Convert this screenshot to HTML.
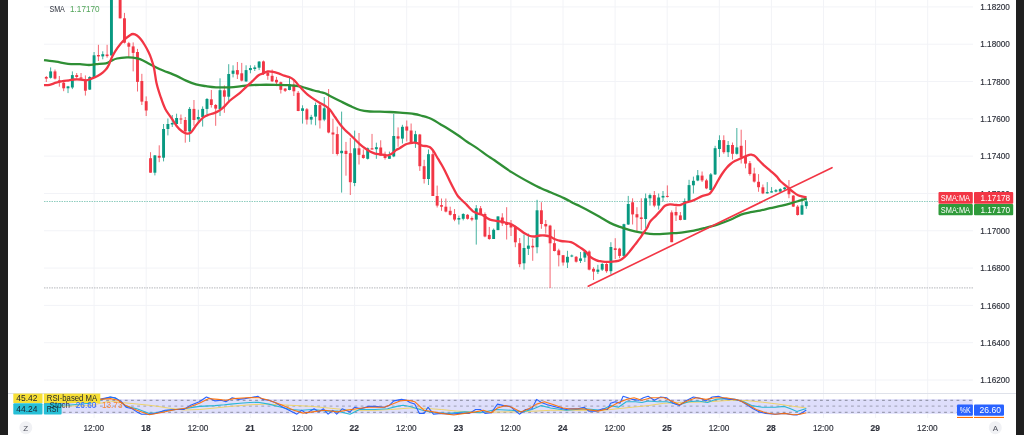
<!DOCTYPE html>
<html><head><meta charset="utf-8"><title>EUR/USD chart</title>
<style>
html,body{margin:0;padding:0;background:#fff;}
body{width:1024px;height:435px;overflow:hidden;position:relative;font-family:"Liberation Sans", sans-serif;}
svg{position:absolute;left:0;top:0;will-change:transform;}
.bl{position:absolute;left:0;top:0;width:8px;height:435px;background:#1f1f1f;}
.br{position:absolute;left:1016px;top:0;width:8px;height:435px;background:#1f1f1f;}
</style></head><body>
<svg width="1024" height="435" viewBox="0 0 1024 435" font-family='"Liberation Sans", sans-serif'>
<g stroke="#f2f3f7" stroke-width="1"><line x1="44" y1="6.9" x2="973" y2="6.9"/><line x1="44" y1="44.21" x2="973" y2="44.21"/><line x1="44" y1="81.52" x2="973" y2="81.52"/><line x1="44" y1="118.83" x2="973" y2="118.83"/><line x1="44" y1="156.14" x2="973" y2="156.14"/><line x1="44" y1="193.45" x2="973" y2="193.45"/><line x1="44" y1="230.76" x2="973" y2="230.76"/><line x1="44" y1="268.07" x2="973" y2="268.07"/><line x1="44" y1="305.38" x2="973" y2="305.38"/><line x1="44" y1="342.69" x2="973" y2="342.69"/><line x1="44" y1="380" x2="973" y2="380"/><line x1="94.1" y1="0" x2="94.1" y2="418"/><line x1="146.2" y1="0" x2="146.2" y2="418"/><line x1="198.3" y1="0" x2="198.3" y2="418"/><line x1="250.4" y1="0" x2="250.4" y2="418"/><line x1="302.5" y1="0" x2="302.5" y2="418"/><line x1="354.6" y1="0" x2="354.6" y2="418"/><line x1="406.7" y1="0" x2="406.7" y2="418"/><line x1="458.8" y1="0" x2="458.8" y2="418"/><line x1="510.9" y1="0" x2="510.9" y2="418"/><line x1="563" y1="0" x2="563" y2="418"/><line x1="615.1" y1="0" x2="615.1" y2="418"/><line x1="667.2" y1="0" x2="667.2" y2="418"/><line x1="719.3" y1="0" x2="719.3" y2="418"/><line x1="771.4" y1="0" x2="771.4" y2="418"/><line x1="823.5" y1="0" x2="823.5" y2="418"/><line x1="875.6" y1="0" x2="875.6" y2="418"/><line x1="927.7" y1="0" x2="927.7" y2="418"/></g>
<line x1="44" y1="201.5" x2="938" y2="201.5" stroke="#8fcdbf" stroke-width="1.1" stroke-dasharray="1.5 1"/>
<line x1="44" y1="287.9" x2="973" y2="287.9" stroke="#c4c5c9" stroke-width="1.2" stroke-dasharray="1.5 1"/>
<g stroke="#089981" stroke-width="1" opacity="0.75"><line x1="50.64" y1="67.4" x2="50.64" y2="78.6"/><line x1="68.02" y1="85.9" x2="68.02" y2="93.1"/><line x1="72.36" y1="71.4" x2="72.36" y2="89.1"/><line x1="89.73" y1="76.2" x2="89.73" y2="90"/><line x1="94.07" y1="52" x2="94.07" y2="77.8"/><line x1="102.76" y1="51.3" x2="102.76" y2="59.3"/><line x1="111.44" y1="-12" x2="111.44" y2="55.5"/><line x1="115.79" y1="-32" x2="115.79" y2="-6"/><line x1="154.88" y1="155" x2="154.88" y2="175.4"/><line x1="163.56" y1="124" x2="163.56" y2="161.4"/><line x1="167.9" y1="118.5" x2="167.9" y2="135.4"/><line x1="172.25" y1="115" x2="172.25" y2="127"/><line x1="176.59" y1="113.7" x2="176.59" y2="125.8"/><line x1="189.62" y1="107" x2="189.62" y2="141.9"/><line x1="198.31" y1="109.7" x2="198.31" y2="123.3"/><line x1="202.65" y1="106.4" x2="202.65" y2="126.6"/><line x1="206.99" y1="98" x2="206.99" y2="114.5"/><line x1="220.02" y1="78.3" x2="220.02" y2="116"/><line x1="228.71" y1="64.2" x2="228.71" y2="101.5"/><line x1="233.05" y1="65.3" x2="233.05" y2="77.4"/><line x1="246.08" y1="65.3" x2="246.08" y2="81.9"/><line x1="250.42" y1="65.3" x2="250.42" y2="73.3"/><line x1="254.76" y1="65.3" x2="254.76" y2="71"/><line x1="259.11" y1="61" x2="259.11" y2="70.1"/><line x1="289.51" y1="76.5" x2="289.51" y2="90.3"/><line x1="302.54" y1="105.3" x2="302.54" y2="123.6"/><line x1="311.22" y1="114.8" x2="311.22" y2="124.5"/><line x1="315.57" y1="102.5" x2="315.57" y2="125.3"/><line x1="324.25" y1="97" x2="324.25" y2="121.2"/><line x1="341.62" y1="111.6" x2="341.62" y2="192.6"/><line x1="354.65" y1="130.6" x2="354.65" y2="186.2"/><line x1="367.68" y1="147.5" x2="367.68" y2="159.5"/><line x1="376.37" y1="142.7" x2="376.37" y2="158.8"/><line x1="389.4" y1="151.6" x2="389.4" y2="158.8"/><line x1="393.74" y1="114" x2="393.74" y2="157.2"/><line x1="402.43" y1="124.8" x2="402.43" y2="143.5"/><line x1="415.45" y1="130.8" x2="415.45" y2="147.9"/><line x1="428.48" y1="149.5" x2="428.48" y2="185"/><line x1="458.88" y1="215.6" x2="458.88" y2="224.5"/><line x1="463.23" y1="213.2" x2="463.23" y2="220.4"/><line x1="476.26" y1="205.1" x2="476.26" y2="244.6"/><line x1="493.63" y1="228.5" x2="493.63" y2="239"/><line x1="497.97" y1="216.4" x2="497.97" y2="230.1"/><line x1="524.03" y1="234.5" x2="524.03" y2="269.6"/><line x1="528.37" y1="233.6" x2="528.37" y2="255"/><line x1="537.06" y1="199.8" x2="537.06" y2="253.3"/><line x1="567.46" y1="250.8" x2="567.46" y2="268"/><line x1="571.8" y1="254.5" x2="571.8" y2="257.2"/><line x1="580.49" y1="252" x2="580.49" y2="263"/><line x1="584.83" y1="251" x2="584.83" y2="262"/><line x1="597.86" y1="264.8" x2="597.86" y2="274"/><line x1="602.2" y1="263" x2="602.2" y2="271"/><line x1="610.89" y1="242.2" x2="610.89" y2="274.4"/><line x1="623.92" y1="223.7" x2="623.92" y2="256.7"/><line x1="628.26" y1="195.9" x2="628.26" y2="225"/><line x1="645.63" y1="193.5" x2="645.63" y2="228.5"/><line x1="649.98" y1="193.5" x2="649.98" y2="205.6"/><line x1="658.66" y1="193.5" x2="658.66" y2="209.6"/><line x1="663.01" y1="191" x2="663.01" y2="201.5"/><line x1="684.72" y1="198.4" x2="684.72" y2="220"/><line x1="689.06" y1="179.8" x2="689.06" y2="201.5"/><line x1="693.41" y1="176.6" x2="693.41" y2="193.5"/><line x1="697.75" y1="170" x2="697.75" y2="181.2"/><line x1="710.78" y1="173" x2="710.78" y2="190.5"/><line x1="715.12" y1="145.8" x2="715.12" y2="175"/><line x1="719.46" y1="135.3" x2="719.46" y2="157"/><line x1="728.15" y1="141" x2="728.15" y2="157"/><line x1="736.84" y1="128" x2="736.84" y2="154.6"/><line x1="767.24" y1="182.1" x2="767.24" y2="193.6"/><line x1="771.58" y1="187.1" x2="771.58" y2="192.6"/><line x1="775.92" y1="189" x2="775.92" y2="192.3"/><line x1="780.27" y1="188.2" x2="780.27" y2="192.9"/><line x1="784.61" y1="186.9" x2="784.61" y2="190.5"/><line x1="801.98" y1="197.4" x2="801.98" y2="215"/><line x1="806.32" y1="197.6" x2="806.32" y2="208.8"/></g>
<g stroke="#f23645" stroke-width="1" opacity="0.75"><line x1="46.3" y1="76" x2="46.3" y2="82"/><line x1="54.99" y1="69.5" x2="54.99" y2="79.5"/><line x1="59.33" y1="76" x2="59.33" y2="86.7"/><line x1="63.67" y1="81" x2="63.67" y2="91.2"/><line x1="76.7" y1="73" x2="76.7" y2="78.6"/><line x1="81.04" y1="73" x2="81.04" y2="79.5"/><line x1="85.39" y1="75.4" x2="85.39" y2="95.6"/><line x1="98.42" y1="44.8" x2="98.42" y2="61"/><line x1="107.1" y1="44.8" x2="107.1" y2="57.7"/><line x1="120.13" y1="-8" x2="120.13" y2="18.5"/><line x1="124.47" y1="12.9" x2="124.47" y2="43.5"/><line x1="128.82" y1="41.9" x2="128.82" y2="58"/><line x1="133.16" y1="42.4" x2="133.16" y2="71.4"/><line x1="137.5" y1="48.9" x2="137.5" y2="91.5"/><line x1="141.85" y1="73.8" x2="141.85" y2="105"/><line x1="146.19" y1="96.4" x2="146.19" y2="116"/><line x1="150.53" y1="152.2" x2="150.53" y2="172.7"/><line x1="159.22" y1="145.3" x2="159.22" y2="162.2"/><line x1="180.93" y1="114.5" x2="180.93" y2="124"/><line x1="185.28" y1="117" x2="185.28" y2="142.7"/><line x1="193.96" y1="100" x2="193.96" y2="125.8"/><line x1="211.33" y1="90" x2="211.33" y2="107.6"/><line x1="215.68" y1="104" x2="215.68" y2="125.8"/><line x1="224.36" y1="85.4" x2="224.36" y2="112.8"/><line x1="237.39" y1="62" x2="237.39" y2="79"/><line x1="241.74" y1="62.9" x2="241.74" y2="81.4"/><line x1="263.45" y1="60.5" x2="263.45" y2="75"/><line x1="267.79" y1="71" x2="267.79" y2="79.8"/><line x1="272.14" y1="69.5" x2="272.14" y2="82"/><line x1="276.48" y1="76.9" x2="276.48" y2="86.1"/><line x1="280.82" y1="81.6" x2="280.82" y2="93.5"/><line x1="285.17" y1="88" x2="285.17" y2="92"/><line x1="293.85" y1="81" x2="293.85" y2="96"/><line x1="298.19" y1="91" x2="298.19" y2="111.2"/><line x1="306.88" y1="108" x2="306.88" y2="124.5"/><line x1="319.91" y1="104" x2="319.91" y2="128.5"/><line x1="328.6" y1="89" x2="328.6" y2="133.3"/><line x1="332.94" y1="118.8" x2="332.94" y2="154"/><line x1="337.28" y1="126.6" x2="337.28" y2="155.6"/><line x1="345.97" y1="141.9" x2="345.97" y2="175.7"/><line x1="350.31" y1="137.9" x2="350.31" y2="195"/><line x1="359" y1="133" x2="359" y2="164.5"/><line x1="363.34" y1="149.4" x2="363.34" y2="158.8"/><line x1="372.03" y1="133.9" x2="372.03" y2="149.5"/><line x1="380.71" y1="140.3" x2="380.71" y2="155.6"/><line x1="385.05" y1="151.6" x2="385.05" y2="159.6"/><line x1="398.08" y1="127.4" x2="398.08" y2="146.8"/><line x1="406.77" y1="120.5" x2="406.77" y2="141.5"/><line x1="411.11" y1="123.5" x2="411.11" y2="142.6"/><line x1="419.8" y1="133.9" x2="419.8" y2="170.9"/><line x1="424.14" y1="159.8" x2="424.14" y2="183.5"/><line x1="432.83" y1="150" x2="432.83" y2="196"/><line x1="437.17" y1="185.6" x2="437.17" y2="207.5"/><line x1="441.51" y1="198.5" x2="441.51" y2="210.8"/><line x1="445.86" y1="198.5" x2="445.86" y2="212.4"/><line x1="450.2" y1="206.7" x2="450.2" y2="215.6"/><line x1="454.54" y1="209" x2="454.54" y2="221.2"/><line x1="467.57" y1="214" x2="467.57" y2="219.6"/><line x1="471.91" y1="216.4" x2="471.91" y2="221.2"/><line x1="480.6" y1="206" x2="480.6" y2="214.8"/><line x1="484.94" y1="212.4" x2="484.94" y2="237.3"/><line x1="489.29" y1="226.9" x2="489.29" y2="239.8"/><line x1="502.31" y1="213.2" x2="502.31" y2="226"/><line x1="506.66" y1="207.2" x2="506.66" y2="239.5"/><line x1="511" y1="220" x2="511" y2="236"/><line x1="515.34" y1="225.6" x2="515.34" y2="247.2"/><line x1="519.69" y1="238" x2="519.69" y2="267.2"/><line x1="532.72" y1="238.5" x2="532.72" y2="260.8"/><line x1="541.4" y1="202.2" x2="541.4" y2="228.8"/><line x1="545.75" y1="220" x2="545.75" y2="233.6"/><line x1="550.09" y1="224.8" x2="550.09" y2="288"/><line x1="554.43" y1="229.6" x2="554.43" y2="251.4"/><line x1="558.77" y1="248.7" x2="558.77" y2="266.4"/><line x1="563.12" y1="255" x2="563.12" y2="265.6"/><line x1="576.15" y1="256" x2="576.15" y2="262.6"/><line x1="589.17" y1="250.3" x2="589.17" y2="270.4"/><line x1="593.52" y1="267.2" x2="593.52" y2="280"/><line x1="606.55" y1="261.5" x2="606.55" y2="272.8"/><line x1="615.23" y1="238.2" x2="615.23" y2="259.1"/><line x1="619.58" y1="247.8" x2="619.58" y2="258.3"/><line x1="632.6" y1="198.3" x2="632.6" y2="224.5"/><line x1="636.95" y1="207.2" x2="636.95" y2="231.7"/><line x1="641.29" y1="198.3" x2="641.29" y2="230"/><line x1="654.32" y1="191" x2="654.32" y2="207.2"/><line x1="667.35" y1="185.4" x2="667.35" y2="197.5"/><line x1="671.69" y1="210.4" x2="671.69" y2="242.2"/><line x1="676.03" y1="206.6" x2="676.03" y2="221"/><line x1="680.38" y1="212" x2="680.38" y2="220.4"/><line x1="702.09" y1="171.5" x2="702.09" y2="182"/><line x1="706.44" y1="178.8" x2="706.44" y2="189.2"/><line x1="723.81" y1="135.3" x2="723.81" y2="153.8"/><line x1="732.49" y1="142.5" x2="732.49" y2="159.5"/><line x1="741.18" y1="129.7" x2="741.18" y2="163.5"/><line x1="745.52" y1="140.1" x2="745.52" y2="168.3"/><line x1="749.87" y1="161" x2="749.87" y2="175.6"/><line x1="754.21" y1="167.7" x2="754.21" y2="182.6"/><line x1="758.55" y1="174.1" x2="758.55" y2="191.8"/><line x1="762.89" y1="184.5" x2="762.89" y2="194.2"/><line x1="788.95" y1="180" x2="788.95" y2="198.2"/><line x1="793.3" y1="195" x2="793.3" y2="207"/><line x1="797.64" y1="205" x2="797.64" y2="215.6"/></g>
<g fill="#089981"><rect x="49.19" y="71.4" width="2.9" height="6.4"/><rect x="66.56" y="86.4" width="2.9" height="1.9"/><rect x="70.91" y="75.1" width="2.9" height="12.4"/><rect x="88.28" y="77" width="2.9" height="12.6"/><rect x="92.62" y="55.3" width="2.9" height="21.7"/><rect x="101.31" y="54.2" width="2.9" height="2.2"/><rect x="109.99" y="-10" width="2.9" height="65.5"/><rect x="114.34" y="-30" width="2.9" height="22"/><rect x="153.43" y="155.4" width="2.9" height="17.3"/><rect x="162.11" y="129" width="2.9" height="28.7"/><rect x="166.45" y="124" width="2.9" height="5"/><rect x="170.8" y="123" width="2.9" height="1.5"/><rect x="175.14" y="118" width="2.9" height="6"/><rect x="188.17" y="108.9" width="2.9" height="22.5"/><rect x="196.86" y="117" width="2.9" height="2.3"/><rect x="201.2" y="108.9" width="2.9" height="8.1"/><rect x="205.54" y="99" width="2.9" height="9.9"/><rect x="218.57" y="90.2" width="2.9" height="18.8"/><rect x="227.26" y="74" width="2.9" height="22.7"/><rect x="231.6" y="70.6" width="2.9" height="3.2"/><rect x="244.63" y="70.1" width="2.9" height="11.3"/><rect x="248.97" y="68" width="2.9" height="2.1"/><rect x="253.31" y="67.4" width="2.9" height="1.6"/><rect x="257.66" y="61.6" width="2.9" height="6.1"/><rect x="288.06" y="84.3" width="2.9" height="5.7"/><rect x="301.09" y="108.3" width="2.9" height="2.6"/><rect x="309.77" y="116.9" width="2.9" height="2.7"/><rect x="314.12" y="105" width="2.9" height="11.6"/><rect x="322.8" y="108.3" width="2.9" height="11.3"/><rect x="340.17" y="150.8" width="2.9" height="2.4"/><rect x="353.2" y="148.3" width="2.9" height="34.7"/><rect x="366.23" y="148.3" width="2.9" height="10.5"/><rect x="374.92" y="147.2" width="2.9" height="2"/><rect x="387.95" y="155.6" width="2.9" height="3.2"/><rect x="392.29" y="136" width="2.9" height="20.4"/><rect x="400.98" y="126.8" width="2.9" height="11.8"/><rect x="414" y="134.2" width="2.9" height="7.8"/><rect x="427.03" y="154.2" width="2.9" height="24.8"/><rect x="457.44" y="218" width="2.9" height="1.6"/><rect x="461.78" y="214" width="2.9" height="4.8"/><rect x="474.81" y="208.3" width="2.9" height="11.3"/><rect x="492.18" y="229.8" width="2.9" height="9.2"/><rect x="496.52" y="216.4" width="2.9" height="13.7"/><rect x="522.58" y="248" width="2.9" height="15.3"/><rect x="526.92" y="245.6" width="2.9" height="3.2"/><rect x="535.61" y="210.3" width="2.9" height="36.9"/><rect x="566.01" y="256.8" width="2.9" height="5.7"/><rect x="570.35" y="255.5" width="2.9" height="1"/><rect x="579.04" y="258.4" width="2.9" height="2.5"/><rect x="583.38" y="251.6" width="2.9" height="6"/><rect x="596.41" y="269.6" width="2.9" height="2.2"/><rect x="600.75" y="264" width="2.9" height="5.6"/><rect x="609.44" y="247" width="2.9" height="24.2"/><rect x="622.47" y="224.2" width="2.9" height="31.7"/><rect x="626.81" y="204" width="2.9" height="20.5"/><rect x="644.18" y="198.3" width="2.9" height="20.7"/><rect x="648.53" y="195.1" width="2.9" height="3.2"/><rect x="657.21" y="197.5" width="2.9" height="8.1"/><rect x="661.56" y="195.9" width="2.9" height="1.6"/><rect x="683.27" y="201" width="2.9" height="18.8"/><rect x="687.61" y="185.1" width="2.9" height="16.2"/><rect x="691.96" y="180.8" width="2.9" height="4.5"/><rect x="696.3" y="175.3" width="2.9" height="5.2"/><rect x="709.33" y="174.4" width="2.9" height="15.6"/><rect x="713.67" y="148.2" width="2.9" height="26.2"/><rect x="718.01" y="140.1" width="2.9" height="8.9"/><rect x="726.7" y="145" width="2.9" height="7.2"/><rect x="735.39" y="147.4" width="2.9" height="6.4"/><rect x="765.79" y="192.1" width="2.9" height="1.3"/><rect x="770.13" y="191.3" width="2.9" height="1.2"/><rect x="774.47" y="190.2" width="2.9" height="1.4"/><rect x="778.82" y="189.1" width="2.9" height="2.5"/><rect x="783.16" y="187.5" width="2.9" height="1.7"/><rect x="800.53" y="205.3" width="2.9" height="9.3"/><rect x="804.87" y="201.4" width="2.9" height="4.7"/></g>
<g fill="#f23645"><rect x="44.85" y="77" width="2.9" height="1.6"/><rect x="53.54" y="71.4" width="2.9" height="7.2"/><rect x="57.88" y="80.3" width="2.9" height="1.9"/><rect x="62.22" y="82.7" width="2.9" height="5.6"/><rect x="75.25" y="75.1" width="2.9" height="1.9"/><rect x="79.59" y="77.4" width="2.9" height="1.2"/><rect x="83.94" y="80.3" width="2.9" height="10.4"/><rect x="96.97" y="55" width="2.9" height="1.4"/><rect x="105.65" y="54.5" width="2.9" height="1.6"/><rect x="118.68" y="-6" width="2.9" height="24.3"/><rect x="123.02" y="18.3" width="2.9" height="24.4"/><rect x="127.37" y="43.2" width="2.9" height="3.5"/><rect x="131.71" y="46.4" width="2.9" height="6.5"/><rect x="136.05" y="52" width="2.9" height="29.9"/><rect x="140.4" y="81" width="2.9" height="20.6"/><rect x="144.74" y="101.2" width="2.9" height="9.3"/><rect x="149.08" y="158.2" width="2.9" height="14.5"/><rect x="157.77" y="155.8" width="2.9" height="1.9"/><rect x="179.48" y="118.5" width="2.9" height="1"/><rect x="183.83" y="120" width="2.9" height="11.4"/><rect x="192.51" y="108.9" width="2.9" height="11.1"/><rect x="209.88" y="99.3" width="2.9" height="5.7"/><rect x="214.23" y="105" width="2.9" height="3.6"/><rect x="222.91" y="90.3" width="2.9" height="6.4"/><rect x="235.94" y="70.1" width="2.9" height="4.4"/><rect x="240.29" y="73.3" width="2.9" height="7.3"/><rect x="262" y="61.4" width="2.9" height="12.6"/><rect x="266.34" y="72.4" width="2.9" height="3.4"/><rect x="270.69" y="75.8" width="2.9" height="5.5"/><rect x="275.03" y="79.8" width="2.9" height="2.6"/><rect x="279.37" y="82.2" width="2.9" height="7.6"/><rect x="283.72" y="88.6" width="2.9" height="2.2"/><rect x="292.4" y="84.6" width="2.9" height="6.7"/><rect x="296.74" y="92.8" width="2.9" height="18.2"/><rect x="305.43" y="109.3" width="2.9" height="10.3"/><rect x="318.46" y="105.1" width="2.9" height="15.3"/><rect x="327.15" y="108.3" width="2.9" height="24.2"/><rect x="331.49" y="132.5" width="2.9" height="2"/><rect x="335.83" y="134.1" width="2.9" height="19.9"/><rect x="344.52" y="150.8" width="2.9" height="3.2"/><rect x="348.86" y="153.2" width="2.9" height="29"/><rect x="357.55" y="148.3" width="2.9" height="6.5"/><rect x="361.89" y="154.8" width="2.9" height="3.2"/><rect x="370.58" y="148.3" width="2.9" height="1.2"/><rect x="379.26" y="147.5" width="2.9" height="8.1"/><rect x="383.6" y="154.8" width="2.9" height="3.2"/><rect x="396.63" y="136.3" width="2.9" height="2.3"/><rect x="405.32" y="126.5" width="2.9" height="4.1"/><rect x="409.66" y="130.5" width="2.9" height="11.5"/><rect x="418.35" y="134.5" width="2.9" height="31.7"/><rect x="422.69" y="166.2" width="2.9" height="12.8"/><rect x="431.38" y="154.2" width="2.9" height="41.8"/><rect x="435.72" y="196" width="2.9" height="9.6"/><rect x="440.06" y="205.1" width="2.9" height="1.6"/><rect x="444.41" y="206.7" width="2.9" height="4.9"/><rect x="448.75" y="210.8" width="2.9" height="4"/><rect x="453.09" y="214" width="2.9" height="5.6"/><rect x="466.12" y="214.8" width="2.9" height="4"/><rect x="470.46" y="218" width="2.9" height="1.6"/><rect x="479.15" y="208.3" width="2.9" height="5.7"/><rect x="483.49" y="214" width="2.9" height="22.5"/><rect x="487.84" y="234.9" width="2.9" height="4.1"/><rect x="500.87" y="217.5" width="2.9" height="5.9"/><rect x="505.21" y="223.2" width="2.9" height="1.8"/><rect x="509.55" y="224" width="2.9" height="3.5"/><rect x="513.89" y="226.4" width="2.9" height="15.9"/><rect x="518.24" y="243.2" width="2.9" height="21"/><rect x="531.27" y="245.8" width="2.9" height="1.6"/><rect x="539.95" y="210.3" width="2.9" height="13.7"/><rect x="544.29" y="224" width="2.9" height="2.4"/><rect x="548.64" y="225.6" width="2.9" height="17.7"/><rect x="552.98" y="243.2" width="2.9" height="7.8"/><rect x="557.32" y="250.4" width="2.9" height="4.8"/><rect x="561.67" y="255.2" width="2.9" height="7.3"/><rect x="574.7" y="256.8" width="2.9" height="4.9"/><rect x="587.72" y="251.5" width="2.9" height="18.1"/><rect x="592.07" y="268.8" width="2.9" height="2.8"/><rect x="605.1" y="264" width="2.9" height="7.2"/><rect x="613.78" y="248.3" width="2.9" height="1.7"/><rect x="618.13" y="248.6" width="2.9" height="7.3"/><rect x="631.15" y="202.3" width="2.9" height="12.1"/><rect x="635.5" y="214.2" width="2.9" height="3.2"/><rect x="639.84" y="217.4" width="2.9" height="1.6"/><rect x="652.87" y="195.1" width="2.9" height="10.5"/><rect x="665.9" y="195.9" width="2.9" height="1"/><rect x="670.24" y="212.4" width="2.9" height="29.8"/><rect x="674.58" y="212" width="2.9" height="3.4"/><rect x="678.93" y="215.4" width="2.9" height="4.6"/><rect x="700.64" y="175.6" width="2.9" height="4.8"/><rect x="704.99" y="180.4" width="2.9" height="8"/><rect x="722.36" y="140.1" width="2.9" height="12.1"/><rect x="731.04" y="145" width="2.9" height="8.8"/><rect x="739.73" y="145.8" width="2.9" height="11.7"/><rect x="744.07" y="157" width="2.9" height="6.6"/><rect x="748.42" y="163.2" width="2.9" height="10.8"/><rect x="752.76" y="173.5" width="2.9" height="8.1"/><rect x="757.1" y="181.8" width="2.9" height="5.4"/><rect x="761.44" y="187.3" width="2.9" height="6.1"/><rect x="787.5" y="187.5" width="2.9" height="6.7"/><rect x="791.85" y="195.6" width="2.9" height="11"/><rect x="796.19" y="206.6" width="2.9" height="8.4"/></g>
<path d="M44,60.1C46,60.37 52,61.08 56,61.7C60,62.32 64,63.38 68,63.8C72,64.22 76.5,64 80,64.2C83.5,64.4 86.33,65 89,65C91.67,65 93.17,64.48 96,64.2C98.83,63.92 103.5,63.85 106,63.3C108.5,62.75 109.17,61.7 111,60.9C112.83,60.1 114.33,59.08 117,58.5C119.67,57.92 124.33,57.53 127,57.4C129.67,57.27 130.83,57.42 133,57.7C135.17,57.98 137.17,58.02 140,59.1C142.83,60.18 146.67,62.52 150,64.2C153.33,65.88 155.67,67.3 160,69.2C164.33,71.1 171.67,73.7 176,75.6C180.33,77.5 182.67,79.13 186,80.6C189.33,82.07 192.67,83.47 196,84.4C199.33,85.33 202.67,85.72 206,86.2C209.33,86.68 212,87.12 216,87.3C220,87.48 226,87.45 230,87.3C234,87.15 237,86.72 240,86.4C243,86.08 244.67,85.67 248,85.4C251.33,85.13 255.5,84.9 260,84.8C264.5,84.7 270.33,84.75 275,84.8C279.67,84.85 284.17,84.9 288,85.1C291.83,85.3 295,85.5 298,86C301,86.5 303.33,87.35 306,88.1C308.67,88.85 311.67,89.85 314,90.5C316.33,91.15 318.17,91.53 320,92C321.83,92.47 323.33,92.63 325,93.3C326.67,93.97 327.5,94.72 330,96C332.5,97.28 336.67,99.35 340,101C343.33,102.65 346.67,104.4 350,105.9C353.33,107.4 356.67,109.07 360,110C363.33,110.93 366.67,111.23 370,111.5C373.33,111.77 376.67,111.52 380,111.6C383.33,111.68 386.67,111.82 390,112C393.33,112.18 396,112.37 400,112.7C404,113.03 410.33,113.47 414,114C417.67,114.53 419,115.03 422,115.9C425,116.77 429,117.85 432,119.2C435,120.55 437.33,122.4 440,124C442.67,125.6 445,126.92 448,128.8C451,130.68 454.83,133.15 458,135.3C461.17,137.45 463.83,139.57 467,141.7C470.17,143.83 473.67,145.82 477,148.1C480.33,150.38 484.08,153.37 487,155.4C489.92,157.43 490.33,157.47 494.5,160.3C498.67,163.13 505.83,168.52 512,172.4C518.17,176.28 526.67,180.97 531.5,183.6C536.33,186.23 537.75,186.72 541,188.2C544.25,189.68 547.17,190.85 551,192.5C554.83,194.15 560.33,196.35 564,198.1C567.67,199.85 570.33,201.65 573,203C575.67,204.35 577.17,204.8 580,206.2C582.83,207.6 586.67,209.6 590,211.4C593.33,213.2 596.67,215.08 600,217C603.33,218.92 606.67,221.25 610,222.9C613.33,224.55 616.67,225.7 620,226.9C623.33,228.1 626.67,229.18 630,230.1C633.33,231.02 636.67,231.78 640,232.4C643.33,233.02 646.67,233.52 650,233.8C653.33,234.08 656.67,234.17 660,234.1C663.33,234.03 666.17,233.7 670,233.4C673.83,233.1 679,232.75 683,232.3C687,231.85 690.33,231.42 694,230.7C697.67,229.98 701,229.07 705,228C709,226.93 713.67,225.72 718,224.3C722.33,222.88 727.17,221.12 731,219.5C734.83,217.88 737.75,215.82 741,214.6C744.25,213.38 747.33,212.87 750.5,212.2C753.67,211.53 756.75,211.27 760,210.6C763.25,209.93 766.33,209.03 770,208.2C773.67,207.37 778.42,206.45 782,205.6C785.58,204.75 788.57,203.92 791.5,203.1C794.43,202.28 797.1,201.45 799.6,200.7C802.1,199.95 805.35,198.95 806.5,198.6" fill="none" stroke="#2f8f35" stroke-width="2.3" stroke-linejoin="round" stroke-linecap="butt"/>
<path d="M44,85.1C44.95,85.05 47.68,85.2 49.7,84.8C51.72,84.4 53.97,83.32 56.1,82.7C58.23,82.08 60.35,81.5 62.5,81.1C64.65,80.7 67.12,80.57 69,80.3C70.88,80.03 71.92,79.63 73.8,79.5C75.68,79.37 78.28,79.37 80.3,79.5C82.32,79.63 84.03,80.45 85.9,80.3C87.77,80.15 89.48,79.37 91.5,78.6C93.52,77.83 96.08,76.75 98,75.7C99.92,74.65 101.58,73.45 103,72.3C104.42,71.15 105.5,70.1 106.5,68.8C107.5,67.5 108,66.62 109,64.5C110,62.38 111.12,58.83 112.5,56.1C113.88,53.37 115.38,50.78 117.3,48.1C119.22,45.42 121.88,42.15 124,40C126.12,37.85 128.5,36.2 130,35.2C131.5,34.2 131.83,33.95 133,34C134.17,34.05 135.67,34.58 137,35.5C138.33,36.42 139.67,37.83 141,39.5C142.33,41.17 143.75,43.42 145,45.5C146.25,47.58 147.5,49.92 148.5,52C149.5,54.08 150.08,55.33 151,58C151.92,60.67 153.08,63.83 154,68C154.92,72.17 155.42,78.25 156.5,83C157.58,87.75 159.03,92.17 160.5,96.5C161.97,100.83 163.42,105.32 165.3,109C167.18,112.68 169.88,115.73 171.8,118.6C173.72,121.47 175.12,124.08 176.8,126.2C178.48,128.32 180.2,130.07 181.9,131.3C183.6,132.53 185.52,133.4 187,133.6C188.48,133.8 189.53,133.52 190.8,132.5C192.07,131.48 193.33,129.18 194.6,127.5C195.87,125.82 196.93,124.1 198.4,122.4C199.87,120.7 201.72,118.57 203.4,117.3C205.08,116.03 206.82,115.47 208.5,114.8C210.18,114.13 211.82,113.93 213.5,113.3C215.18,112.67 216.9,112.02 218.6,111C220.3,109.98 221.8,108.95 223.7,107.2C225.6,105.45 227.28,102.9 230,100.5C232.72,98.1 237.42,94.95 240,92.8C242.58,90.65 243.43,89.53 245.5,87.6C247.57,85.67 250.22,83.27 252.4,81.2C254.58,79.13 256.77,76.5 258.6,75.2C260.43,73.9 261.9,74.03 263.4,73.4C264.9,72.77 265.98,71.67 267.6,71.4C269.22,71.13 271.27,71.47 273.1,71.8C274.93,72.13 276.77,72.77 278.6,73.4C280.43,74.03 282.25,74.97 284.1,75.6C285.95,76.23 288.08,76.5 289.7,77.2C291.32,77.9 292.43,78.6 293.8,79.8C295.17,81 296.52,82.83 297.9,84.4C299.28,85.97 300.48,87.5 302.1,89.2C303.72,90.9 305.77,93.03 307.6,94.6C309.43,96.17 311.03,97.2 313.1,98.6C315.17,100 318.02,101.83 320,103C321.98,104.17 323.33,104.47 325,105.6C326.67,106.73 328.33,107.9 330,109.8C331.67,111.7 333.33,114.58 335,117C336.67,119.42 338.33,122.13 340,124.3C341.67,126.47 343.33,128.3 345,130C346.67,131.7 348.33,132.92 350,134.5C351.67,136.08 353.33,137.87 355,139.5C356.67,141.13 358.33,142.83 360,144.3C361.67,145.77 363.33,147.08 365,148.3C366.67,149.52 368.33,150.72 370,151.6C371.67,152.48 373.33,153.15 375,153.6C376.67,154.05 378.33,154.07 380,154.3C381.67,154.53 383.67,154.82 385,155C386.33,155.18 386.83,155.65 388,155.4C389.17,155.15 390.6,154.42 392,153.5C393.4,152.58 395.07,150.82 396.4,149.9C397.73,148.98 398.4,148.93 400,148C401.6,147.07 404.33,145.1 406,144.3C407.67,143.5 408.67,143.48 410,143.2C411.33,142.92 412.67,142.58 414,142.6C415.33,142.62 416.67,142.8 418,143.3C419.33,143.8 420.5,145.12 422,145.6C423.5,146.08 425.67,145.93 427,146.2C428.33,146.47 429.05,146.57 430,147.2C430.95,147.83 431.78,148.78 432.7,150C433.62,151.22 434.57,152.97 435.5,154.5C436.43,156.03 437.3,157.53 438.3,159.2C439.3,160.87 440.38,162.53 441.5,164.5C442.62,166.47 443.58,168.17 445,171C446.42,173.83 448.33,178.13 450,181.5C451.67,184.87 453.67,188.73 455,191.2C456.33,193.67 456.83,194.78 458,196.3C459.17,197.82 460.5,198.83 462,200.3C463.5,201.77 465.67,203.77 467,205.1C468.33,206.43 469,207.25 470,208.3C471,209.35 471.67,210.52 473,211.4C474.33,212.28 476.5,213.03 478,213.6C479.5,214.17 480.5,214.07 482,214.8C483.5,215.53 485.67,217.2 487,218C488.33,218.8 488.67,219.15 490,219.6C491.33,220.05 493.33,220.4 495,220.7C496.67,221 498.33,221.1 500,221.4C501.67,221.7 503.33,222.1 505,222.5C506.67,222.9 508.33,223.15 510,223.8C511.67,224.45 513.33,225.37 515,226.4C516.67,227.43 518.33,228.8 520,230C521.67,231.2 523.33,232.6 525,233.6C526.67,234.6 528.33,235.52 530,236C531.67,236.48 533.33,236.58 535,236.5C536.67,236.42 538.33,235.67 540,235.5C541.67,235.33 543.33,235.33 545,235.5C546.67,235.67 548.33,235.87 550,236.5C551.67,237.13 553.17,238.55 555,239.3C556.83,240.05 558.33,240.52 561,241C563.67,241.48 568.33,241.45 571,242.2C573.67,242.95 574.67,244.03 577,245.5C579.33,246.97 582.83,249.15 585,251C587.17,252.85 588.07,255.03 590,256.6C591.93,258.17 594.93,259.63 596.6,260.4C598.27,261.17 598.6,260.95 600,261.2C601.4,261.45 603.33,261.78 605,261.9C606.67,262.02 608.33,261.98 610,261.9C611.67,261.82 613.33,261.68 615,261.4C616.67,261.12 618.33,260.98 620,260.2C621.67,259.42 623.33,258.22 625,256.7C626.67,255.18 628.33,253.12 630,251.1C631.67,249.08 633.33,246.75 635,244.6C636.67,242.45 638.67,240.05 640,238.2C641.33,236.35 641.83,235.2 643,233.5C644.17,231.8 645.83,229.95 647,228C648.17,226.05 648.67,223.7 650,221.8C651.33,219.9 653.33,218.33 655,216.6C656.67,214.87 658.33,213.2 660,211.4C661.67,209.6 663.33,206.98 665,205.8C666.67,204.62 668.33,204.47 670,204.3C671.67,204.13 673.33,204.67 675,204.8C676.67,204.93 678.17,205.48 680,205.1C681.83,204.72 683.67,203.33 686,202.5C688.33,201.67 691.33,201.17 694,200.1C696.67,199.03 699.57,197.07 702,196.1C704.43,195.13 707.02,195.07 708.6,194.3C710.18,193.53 710.52,192.72 711.5,191.5C712.48,190.28 713.33,188.95 714.5,187C715.67,185.05 717.25,181.97 718.5,179.8C719.75,177.63 720.63,176 722,174C723.37,172 725.28,169.47 726.7,167.8C728.12,166.13 729.15,165.12 730.5,164C731.85,162.88 732.75,162.2 734.8,161.1C736.85,160 740.4,158.45 742.8,157.4C745.2,156.35 747.67,155.23 749.2,154.8C750.73,154.37 751.18,154.67 752,154.8C752.82,154.93 753.35,155.15 754.1,155.6C754.85,156.05 755.7,156.72 756.5,157.5C757.3,158.28 757.7,159.03 758.9,160.3C760.1,161.57 761.82,163.37 763.7,165.1C765.58,166.83 768.05,168.82 770.2,170.7C772.35,172.58 774.92,174.68 776.6,176.4C778.28,178.12 778.35,179.1 780.3,181C782.25,182.9 786.17,185.98 788.3,187.8C790.43,189.62 791.48,190.67 793.1,191.9C794.72,193.13 796.38,194.42 798,195.2C799.62,195.98 801.38,196.27 802.8,196.6C804.22,196.93 805.88,197.1 806.5,197.2" fill="none" stroke="#f23645" stroke-width="2.3" stroke-linejoin="round" stroke-linecap="butt"/>
<line x1="588.2" y1="286.2" x2="832" y2="167.7" stroke="#f23645" stroke-width="1.6" stroke-linecap="round"/>
<line x1="8" y1="393.5" x2="1016" y2="393.5" stroke="#dfe2ea" stroke-width="1"/>
<rect x="44" y="399.2" width="929" height="14.6" fill="#dcdcfb" opacity="0.95"/>
<line x1="44.1" y1="400.4" x2="973" y2="400.4" stroke="#86889a" stroke-width="1.1" stroke-dasharray="2.8 3.407" opacity="0.8"/>
<line x1="44.1" y1="406.1" x2="973" y2="406.1" stroke="#86889a" stroke-width="1.1" stroke-dasharray="2.8 3.407" opacity="0.6"/>
<line x1="44.1" y1="412.4" x2="973" y2="412.4" stroke="#86889a" stroke-width="1.1" stroke-dasharray="2.8 3.407" opacity="0.75"/>
<polyline points="44,406 70,406 90,405.6 110.3,401 121.3,402.5 136.9,404 152.5,405.6 168.1,408 183.8,410 199.4,409.5 215,408 230.6,406.4 250,404.8 265.6,404.1 281.3,404.8 296.9,405.6 312.5,406.4 328.1,408 343.8,409.5 359.4,410.3 375,410.3 390.6,409.5 410,408 425.6,408.4 441.3,409.5 456.9,411.1 472.5,411.9 488.1,412.2 503.8,411.9 519.4,411.9 535,411.1 550.6,410.3 570,410.2 601.3,410.6 616.9,408.8 632.5,407.2 648.1,405.6 663.8,403.3 679.4,402.5 695,402.2 710.6,401.7 731.3,400.2 746.9,400.6 762.5,402.2 778.1,404.1 793.8,406.4 806.3,408" fill="none" stroke="#f0d35c" stroke-width="1" stroke-linejoin="round" opacity="0.9"/>
<polyline points="44,405 70,405 90,403.3 110.3,397 116.6,398.6 126,406.4 136.9,408.8 149.4,413.4 155.6,412.7 168.1,410.3 183.8,408.8 199.4,406.4 215,405.6 224.4,404.8 230.6,404.1 240,403.3 250,402.5 257.8,402.2 268.8,404.1 281.3,407.2 290.6,409.5 301.6,410.3 312.5,409.5 328.1,411.1 337.5,411.1 350,414.2 359.4,409.5 375,409.5 387.5,408.8 396.9,406.4 403.1,405.3 410,406.5 422.5,410.3 433.4,412.7 449.1,413.4 464.7,411.9 480.3,412.7 495.9,409.5 511.6,410.3 522.5,411.9 531.9,409.5 541.3,405.6 550.6,408 566.3,410.3 585.6,408.8 601.3,410.3 610.6,405.6 618.4,407.2 626.3,401.7 635.6,401.7 641.9,402.5 648.1,401 657.5,401.7 666.9,401.7 679.4,404.8 688.8,401.7 698.1,401 707.5,402.5 715.3,399.4 723.4,398.6 734.4,399.4 743.8,401.7 751.6,405.6 762.5,407.2 775,407.2 784.4,406.4 790.6,408.8 796.9,411.6 803.1,409.5 806.3,408.4" fill="none" stroke="#29b6d6" stroke-width="1.1" stroke-linejoin="round"/>
<polyline points="44,404 62,403 75,402.5 90,401 99.4,399.4 110.3,397 115,397.8 121.3,401.7 126,407.2 132.2,408.8 136.9,411.9 141.6,414.2 149.4,414.2 155.6,413.4 165,410.3 175.9,409.5 183.8,409.5 190,405.6 199.4,401.7 206.4,397 210.3,398.6 215,400.9 221.3,400.2 225.9,401.7 232.2,397.8 238.4,399.4 244.7,398.6 250,397.8 257.8,396.3 262.5,399.4 268.8,400.2 275,402.5 281.3,406.4 289.1,410.3 296.9,414.2 301.6,410.3 306.3,413.4 314.1,408.8 318.8,411.9 323.4,408.8 328.1,414.2 332.8,410.3 336.7,414.2 342.2,408.8 350,411.9 354.7,407.2 360.9,408.8 368.8,406.4 375,406.4 384.4,407.2 389.1,405.6 393.8,400.9 401.6,399.4 406.3,400.2 410,402.5 414.7,404.1 419.4,413.4 424.1,413.4 428,407.2 433.4,414.2 441.3,413.4 450.6,414.2 460,413.4 469.4,413.4 475.6,409.5 480.3,409.5 485,413.4 491.3,412.7 497.5,404.1 503.8,405.6 510,406.4 519.4,414.2 525.6,409.5 531.9,408.8 536.6,399.4 541.3,402.5 547.5,404.8 556.9,407.2 566.3,409.5 570,408.8 577.8,408.8 584.1,407.2 588.8,411.1 596.6,411.1 602.8,408.8 607.5,409.5 610.6,403.3 615.3,401.7 620,403.3 623.1,396.3 627.8,397.8 632.5,399.4 638.8,400.2 643.4,397.8 648.1,396.3 654.4,400.2 660.6,397 666.9,397.8 673.1,403.3 679.4,405.6 685.6,400.9 693.4,397 701.3,398.6 705.9,400.9 712.2,397 718.4,396.3 724.7,398.6 730,399.4 735.9,399.4 740.6,400.9 746.9,404.8 753.1,408.8 759.4,411.9 765.6,413.4 775,414.2 784.4,413.4 792.2,414.7 796.9,415 801.6,413.1 806.3,410" fill="none" stroke="#2962ff" stroke-width="1.1" stroke-linejoin="round"/>
<polyline points="44,403 62,402.5 80,401 90,399.4 99.4,399.4 110.3,398.6 118.1,400.2 126,405.6 136.9,410.3 149.4,414.7 160.3,412.7 175.9,409.5 186.9,408 199.4,403.3 208.8,398.6 218.1,399.4 225.9,400.2 233.8,398.6 250,397.5 259.4,397.8 268.8,400.2 281.3,404.8 293.8,410.3 303.1,413.1 312.5,411.9 325,410.3 337.5,411.9 346.9,410.3 356.3,408.8 368.8,407.2 384.4,407.2 390.6,404.8 400,400.9 406.3,400.2 410,400.6 414.7,401.7 424.1,410.3 433.4,411.9 441.3,413.4 453.8,415 464.7,413.4 475.6,411.9 483.4,410.3 491.3,412.7 497.5,408 505.3,405.6 511.6,407.2 520.9,411.9 528.8,408.8 536.6,404.1 544.4,401.7 553.8,404.8 563.1,408 570,409 582.5,408.8 598.1,411.1 607.5,408.8 616.9,403.3 626.3,399.4 634.1,397.8 641.9,400.2 651.3,397.8 663.8,397.8 673.1,401.7 679.4,404.8 688.8,400.2 696.6,397.8 705.9,399.4 715.3,397.8 726.3,397.8 739.1,400.2 746.9,404.1 756.3,409.5 765.6,412.7 775,414.2 784.4,413.4 793.8,414.7 800,414.2 806.3,412.7" fill="none" stroke="#ff6d00" stroke-width="1.1" stroke-linejoin="round" opacity="0.9"/>
<g font-size="9" fill="#2f323c" stroke="#2f323c" stroke-width="0.18"><text x="980.3" y="10.1" textLength="29.6" lengthAdjust="spacingAndGlyphs">1.18200</text><text x="980.3" y="47.41" textLength="29.6" lengthAdjust="spacingAndGlyphs">1.18000</text><text x="980.3" y="84.72" textLength="29.6" lengthAdjust="spacingAndGlyphs">1.17800</text><text x="980.3" y="122.03" textLength="29.6" lengthAdjust="spacingAndGlyphs">1.17600</text><text x="980.3" y="159.34" textLength="29.6" lengthAdjust="spacingAndGlyphs">1.17400</text><text x="980.3" y="196.65" textLength="29.6" lengthAdjust="spacingAndGlyphs">1.17200</text><text x="980.3" y="233.96" textLength="29.6" lengthAdjust="spacingAndGlyphs">1.17000</text><text x="980.3" y="271.27" textLength="29.6" lengthAdjust="spacingAndGlyphs">1.16800</text><text x="980.3" y="308.58" textLength="29.6" lengthAdjust="spacingAndGlyphs">1.16600</text><text x="980.3" y="345.89" textLength="29.6" lengthAdjust="spacingAndGlyphs">1.16400</text><text x="980.3" y="383.2" textLength="29.6" lengthAdjust="spacingAndGlyphs">1.16200</text></g>
<!-- SMA labels -->
<rect x="938.5" y="192" width="34.3" height="11.7" rx="1" fill="#f23645"/>
<rect x="974" y="192" width="39.2" height="11.7" rx="1" fill="#f23645"/>
<rect x="938.5" y="204" width="34.3" height="11.3" rx="1" fill="#2f9a3a"/>
<rect x="974" y="204" width="39.2" height="11.3" rx="1" fill="#2f9a3a"/>
<g font-size="9" fill="#fff">
<text x="940.8" y="201.1" textLength="29.2" lengthAdjust="spacingAndGlyphs">SMA:MA</text>
<text x="980.4" y="201.1" textLength="29.8" lengthAdjust="spacingAndGlyphs">1.17178</text>
<text x="940.8" y="213" textLength="29.2" lengthAdjust="spacingAndGlyphs">SMA:MA</text>
<text x="980.4" y="213" textLength="29.8" lengthAdjust="spacingAndGlyphs">1.17170</text>
</g>
<!-- legend -->
<text x="49.4" y="12" font-size="9" fill="#2a2e39" textLength="15.4" lengthAdjust="spacingAndGlyphs">SMA</text>
<text x="70" y="12" font-size="9" fill="#52a55a" textLength="29.6" lengthAdjust="spacingAndGlyphs">1.17170</text>
<!-- stoch legend -->
<rect x="13.3" y="393.6" width="29.2" height="9.4" fill="#f7df35"/>
<rect x="43.8" y="393.6" width="56.5" height="9.4" fill="#f7df35"/>
<rect x="13.3" y="403.2" width="29.2" height="11.2" rx="1" fill="#26bfd6"/>
<rect x="43.8" y="403.2" width="17.8" height="11.2" rx="1" fill="#26bfd6"/>
<g font-size="9" fill="#1e222d">
<text x="16.3" y="400.6" textLength="21.2" lengthAdjust="spacingAndGlyphs">45.42</text>
<text x="46.8" y="400.6" textLength="50.4" lengthAdjust="spacingAndGlyphs">RSI-based MA</text>
<text x="16.3" y="412" textLength="21.2" lengthAdjust="spacingAndGlyphs">44.24</text>
<text x="46.8" y="412" textLength="11.6" lengthAdjust="spacingAndGlyphs">RSI</text>
</g>
<text x="49.6" y="408" font-size="9" fill="#131722" opacity="0.8" textLength="20.4" lengthAdjust="spacingAndGlyphs">Stoch</text>
<text x="75.8" y="408" font-size="9" fill="#2962ff" textLength="20.6" lengthAdjust="spacingAndGlyphs">26.60</text>
<text x="101.9" y="408" font-size="9" fill="#ff6d00" opacity="0.8" textLength="20.6" lengthAdjust="spacingAndGlyphs">13.73</text>
<!-- %K label -->
<rect x="957" y="416.9" width="16" height="1.1" fill="#ff6d00"/>
<rect x="974" y="416.9" width="30" height="1.1" fill="#ff6d00"/>
<rect x="957" y="404.4" width="15.9" height="11.4" rx="1" fill="#2962ff"/>
<rect x="974" y="404.4" width="30" height="11.4" rx="1" fill="#2962ff"/>
<g font-size="9" fill="#fff">
<text x="959.8" y="413.4" textLength="11" lengthAdjust="spacingAndGlyphs">%K</text>
<text x="979.6" y="413.4" textLength="21.4" lengthAdjust="spacingAndGlyphs">26.60</text>
</g>
<!-- time axis -->
<g font-size="9" fill="#2f323c" stroke="#2f323c" stroke-width="0.18"><text x="83.5" y="431.4" textLength="20.6" lengthAdjust="spacingAndGlyphs">12:00</text><text x="141.2" y="431.4" font-weight="bold" textLength="9.4" lengthAdjust="spacingAndGlyphs">18</text><text x="187.7" y="431.4" textLength="20.6" lengthAdjust="spacingAndGlyphs">12:00</text><text x="245.4" y="431.4" font-weight="bold" textLength="9.4" lengthAdjust="spacingAndGlyphs">21</text><text x="291.9" y="431.4" textLength="20.6" lengthAdjust="spacingAndGlyphs">12:00</text><text x="349.6" y="431.4" font-weight="bold" textLength="9.4" lengthAdjust="spacingAndGlyphs">22</text><text x="396.1" y="431.4" textLength="20.6" lengthAdjust="spacingAndGlyphs">12:00</text><text x="453.8" y="431.4" font-weight="bold" textLength="9.4" lengthAdjust="spacingAndGlyphs">23</text><text x="500.3" y="431.4" textLength="20.6" lengthAdjust="spacingAndGlyphs">12:00</text><text x="558" y="431.4" font-weight="bold" textLength="9.4" lengthAdjust="spacingAndGlyphs">24</text><text x="604.5" y="431.4" textLength="20.6" lengthAdjust="spacingAndGlyphs">12:00</text><text x="662.2" y="431.4" font-weight="bold" textLength="9.4" lengthAdjust="spacingAndGlyphs">25</text><text x="708.7" y="431.4" textLength="20.6" lengthAdjust="spacingAndGlyphs">12:00</text><text x="766.4" y="431.4" font-weight="bold" textLength="9.4" lengthAdjust="spacingAndGlyphs">28</text><text x="812.9" y="431.4" textLength="20.6" lengthAdjust="spacingAndGlyphs">12:00</text><text x="870.6" y="431.4" font-weight="bold" textLength="9.4" lengthAdjust="spacingAndGlyphs">29</text><text x="917.1" y="431.4" textLength="20.6" lengthAdjust="spacingAndGlyphs">12:00</text></g>
<circle cx="25.8" cy="427.7" r="6.5" fill="#f0f1f4"/>
<text x="25.8" y="430.6" font-size="8" fill="#50535e" text-anchor="middle">Z</text>
<circle cx="995.3" cy="427.7" r="6.5" fill="#f0f1f4"/>
<text x="995.3" y="430.6" font-size="8" fill="#50535e" text-anchor="middle">A</text>
</svg>
<div class="bl"></div><div class="br"></div>
</body></html>
